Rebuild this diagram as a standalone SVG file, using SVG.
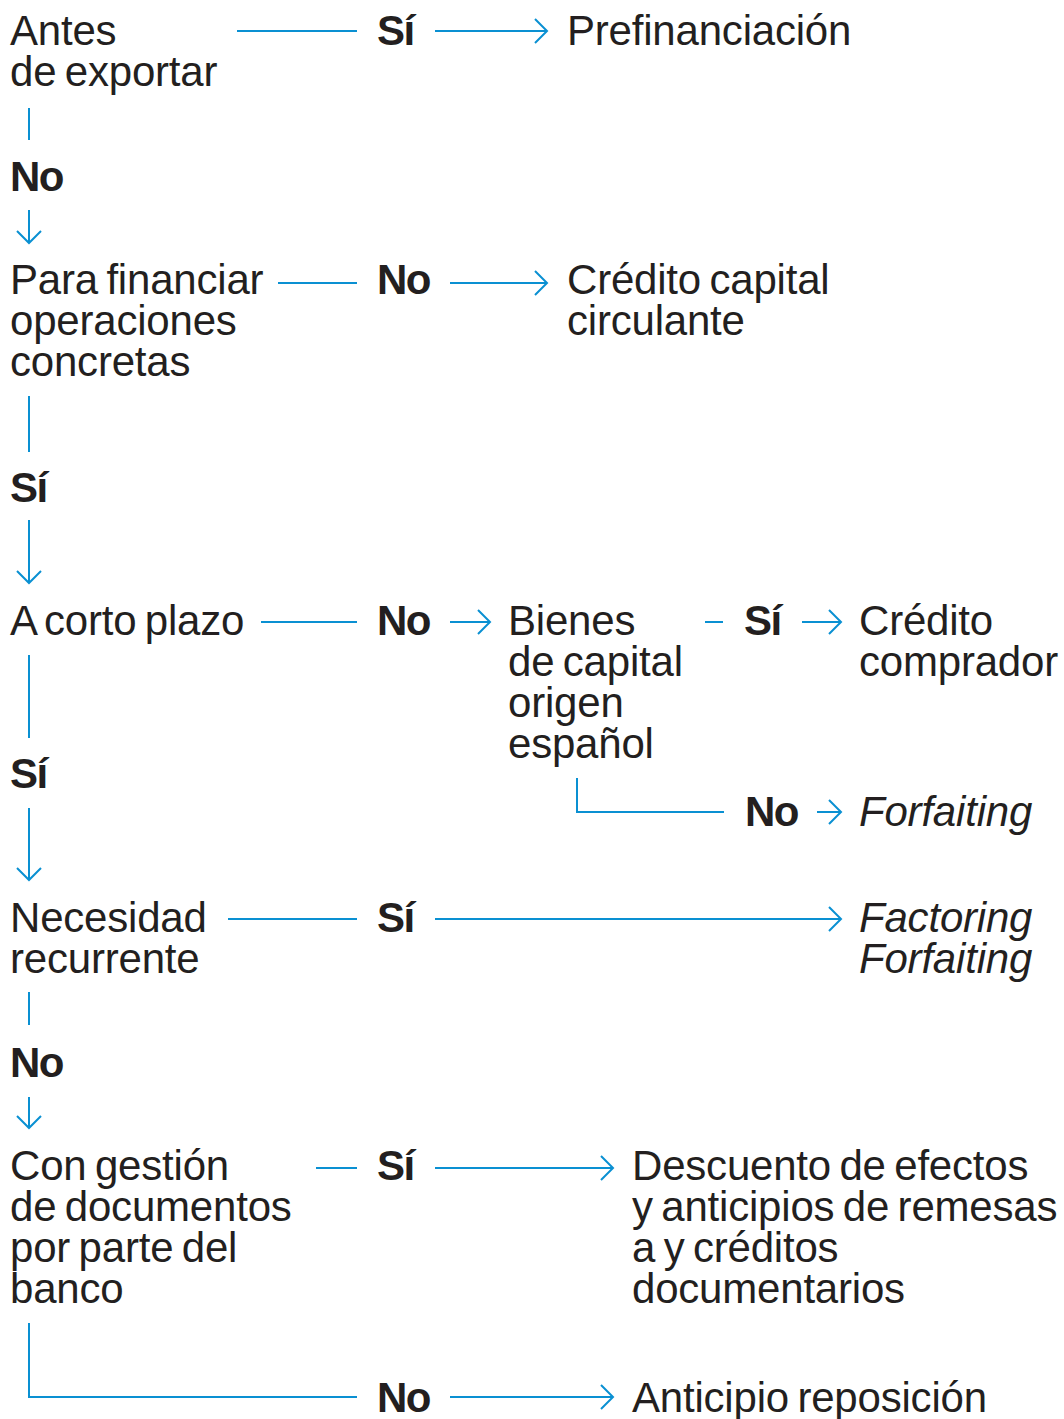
<svg xmlns="http://www.w3.org/2000/svg" width="1064" height="1419" viewBox="0 0 1064 1419">
<style>
text{font-family:"Liberation Sans",Arial,sans-serif;font-size:42px;fill:#231f20;letter-spacing:-0.2px;word-spacing:-3px}
.b{font-weight:bold;letter-spacing:-1.5px}
.i{font-style:italic}
.c{fill:none;stroke:#0a90d2;stroke-width:2}
</style>
<defs>
<marker id="ah" markerUnits="userSpaceOnUse" markerWidth="16" markerHeight="28" viewBox="0 0 16 28" refX="14" refY="14" orient="auto" overflow="visible">
<path d="M2,2 L14,14 L2,26" fill="none" stroke="#0a90d2" stroke-width="2"/>
</marker>
</defs>
<rect width="1064" height="1419" fill="#ffffff"/>
<g id="connectors">
<line class="c" x1="237" y1="31" x2="357" y2="31"/>
<line class="c" x1="435" y1="31" x2="547" y2="31" marker-end="url(#ah)"/>
<line class="c" x1="29" y1="108" x2="29" y2="140"/>
<line class="c" x1="29" y1="210" x2="29" y2="243" marker-end="url(#ah)"/>
<line class="c" x1="278" y1="283" x2="357" y2="283"/>
<line class="c" x1="450" y1="283" x2="547" y2="283" marker-end="url(#ah)"/>
<line class="c" x1="29" y1="396" x2="29" y2="452"/>
<line class="c" x1="29" y1="520" x2="29" y2="583" marker-end="url(#ah)"/>
<line class="c" x1="261" y1="622" x2="357" y2="622"/>
<line class="c" x1="450" y1="622" x2="490" y2="622" marker-end="url(#ah)"/>
<line class="c" x1="705" y1="622" x2="723" y2="622"/>
<line class="c" x1="802" y1="622" x2="841" y2="622" marker-end="url(#ah)"/>
<polyline class="c" points="577,778 577,812 724,812"/>
<line class="c" x1="817" y1="812" x2="841" y2="812" marker-end="url(#ah)"/>
<line class="c" x1="29" y1="655" x2="29" y2="738"/>
<line class="c" x1="29" y1="808" x2="29" y2="880" marker-end="url(#ah)"/>
<line class="c" x1="228" y1="919" x2="357" y2="919"/>
<line class="c" x1="435" y1="919" x2="841" y2="919" marker-end="url(#ah)"/>
<line class="c" x1="29" y1="992" x2="29" y2="1025"/>
<line class="c" x1="29" y1="1097" x2="29" y2="1128" marker-end="url(#ah)"/>
<line class="c" x1="316" y1="1168" x2="357" y2="1168"/>
<line class="c" x1="435" y1="1168" x2="613" y2="1168" marker-end="url(#ah)"/>
<polyline class="c" points="29,1323 29,1397 357,1397"/>
<line class="c" x1="450" y1="1397" x2="613" y2="1397" marker-end="url(#ah)"/>
</g>
<g id="n-antes"><text x="10" y="45">Antes</text><text x="10" y="86">de exportar</text></g>
<g id="l-si1"><text class="b" x="377" y="45">Sí</text></g>
<g id="n-prefin"><text x="567" y="45">Prefinanciación</text></g>
<g id="l-no1"><text class="b" x="10" y="191">No</text></g>
<g id="n-para"><text x="10" y="294">Para financiar</text><text x="10" y="335">operaciones</text><text x="10" y="376">concretas</text></g>
<g id="l-no2"><text class="b" x="377" y="294">No</text></g>
<g id="n-credcap"><text x="567" y="294">Crédito capital</text><text x="567" y="335">circulante</text></g>
<g id="l-si2"><text class="b" x="10" y="502">Sí</text></g>
<g id="n-corto"><text x="10" y="635">A corto plazo</text></g>
<g id="l-no3"><text class="b" x="377" y="635">No</text></g>
<g id="n-bienes"><text x="508" y="635">Bienes</text><text x="508" y="676">de capital</text><text x="508" y="717">origen</text><text x="508" y="758">español</text></g>
<g id="l-si3"><text class="b" x="744" y="635">Sí</text></g>
<g id="n-credcomp"><text x="859" y="635">Crédito</text><text x="859" y="676">comprador</text></g>
<g id="l-no4"><text class="b" x="745" y="826">No</text></g>
<g id="n-forf1"><text class="i" x="859" y="826">Forfaiting</text></g>
<g id="l-si4"><text class="b" x="10" y="788">Sí</text></g>
<g id="n-necesidad"><text x="10" y="932">Necesidad</text><text x="10" y="973">recurrente</text></g>
<g id="l-si5"><text class="b" x="377" y="932">Sí</text></g>
<g id="n-factoring"><text class="i" x="859" y="932">Factoring</text><text class="i" x="859" y="973">Forfaiting</text></g>
<g id="l-no5"><text class="b" x="10" y="1077">No</text></g>
<g id="n-gestion"><text x="10" y="1180">Con gestión</text><text x="10" y="1221">de documentos</text><text x="10" y="1262">por parte del</text><text x="10" y="1303">banco</text></g>
<g id="l-si6"><text class="b" x="377" y="1180">Sí</text></g>
<g id="n-descuento"><text x="632" y="1180">Descuento de efectos</text><text x="632" y="1221">y anticipios de remesas</text><text x="632" y="1262">a y créditos</text><text x="632" y="1303">documentarios</text></g>
<g id="l-no6"><text class="b" x="377" y="1412">No</text></g>
<g id="n-anticipio"><text x="632" y="1412">Anticipio reposición</text></g>
</svg>
